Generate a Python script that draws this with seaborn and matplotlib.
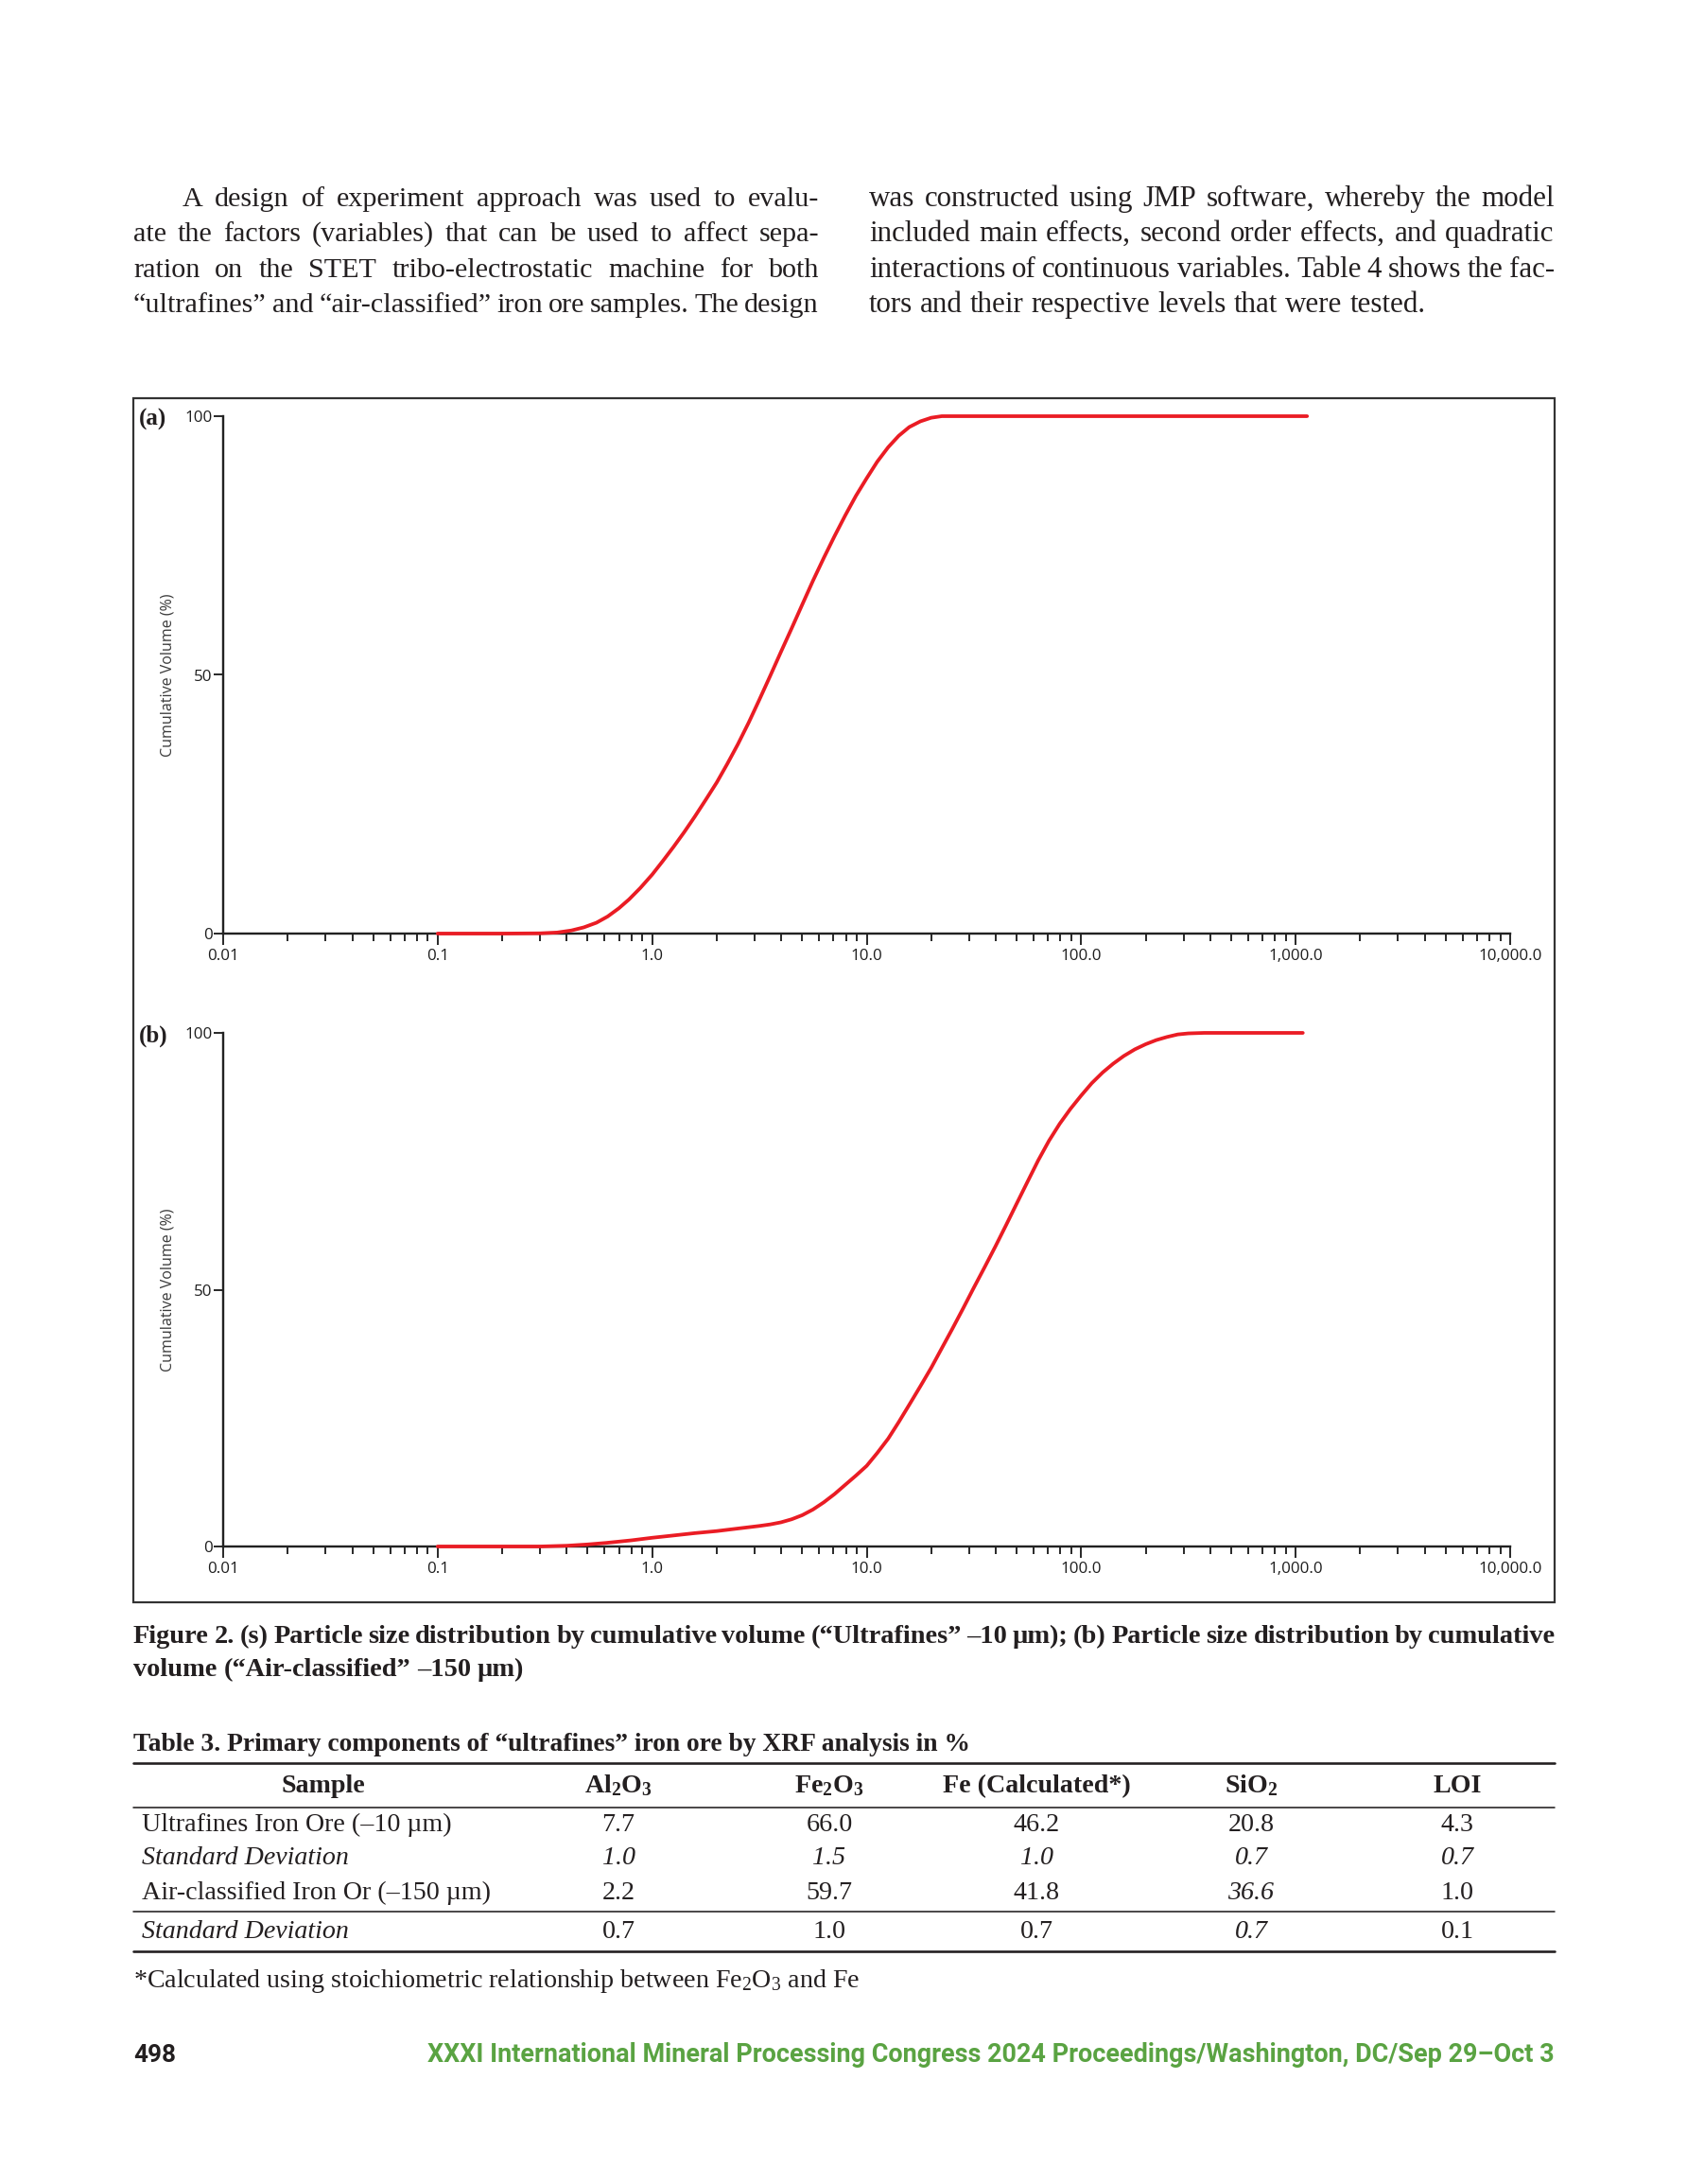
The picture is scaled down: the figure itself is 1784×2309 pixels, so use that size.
import numpy as np
import pandas as pd
import seaborn as sns
import matplotlib.pyplot as plt
from matplotlib.ticker import LogLocator, NullFormatter
from matplotlib.patches import Rectangle
from matplotlib.lines import Line2D

sns.set_style('ticks')
plt.rcParams['font.family'] = ['Liberation Serif', 'DejaVu Serif']
plt.rcParams['mathtext.fontset'] = 'custom'
plt.rcParams['mathtext.rm'] = 'Liberation Serif'
plt.rcParams['mathtext.it'] = 'Liberation Serif:italic'
plt.rcParams['mathtext.bf'] = 'Liberation Serif:bold'

DPI = 200
W, H = 1784, 2309
PT = 72 / DPI
INK = '#231f20'
RED = '#ea1c24'
GREEN = '#5aa342'

# ---- data ----
# (a) ultrafines, particle size (um) vs cumulative volume (%)
size_a = [0.10, 0.20, 0.30, 0.36, 0.42, 0.48, 0.55, 0.62, 0.70, 0.78, 0.88, 1.00,
          1.12, 1.26, 1.41, 1.58, 1.78, 2.00, 2.24, 2.51, 2.82, 3.16, 3.55, 3.98,
          4.47, 5.01, 5.62, 6.31, 7.08, 7.94, 8.91, 10.0, 11.2, 12.6, 14.1, 15.8,
          17.8, 20.0, 22.4, 50.0, 1130.0]
cum_a = [0, 0, 0.05, 0.2, 0.6, 1.2, 2.1, 3.3, 4.9, 6.6, 8.8, 11.4,
         14.0, 16.8, 19.6, 22.6, 25.9, 29.2, 32.8, 36.6, 40.8, 45.2, 49.8, 54.4,
         59.0, 63.6, 68.2, 72.6, 76.8, 80.8, 84.6, 88.0, 91.2, 94.0, 96.2, 97.9,
         99.0, 99.7, 100, 100, 100]
# (b) air-classified
size_b = [0.10, 0.30, 0.40, 0.50, 0.61, 0.80, 1.00, 1.26, 1.58, 2.00, 2.51, 3.16,
          3.55, 3.98, 4.47, 5.01, 5.62, 6.31, 7.08, 7.94, 8.91, 10.0, 11.2, 12.6,
          14.1, 15.8, 17.8, 20.0, 22.4, 25.1, 28.2, 31.6, 35.5, 39.8, 44.7, 50.1,
          56.2, 63.1, 70.8, 79.4, 89.1, 100, 112, 126, 141, 158, 178, 200,
          224, 251, 282, 316, 374, 1080]
cum_b = [0, 0, 0.15, 0.4, 0.7, 1.2, 1.7, 2.15, 2.6, 3.0, 3.5, 4.0,
         4.3, 4.7, 5.3, 6.1, 7.2, 8.6, 10.2, 12.0, 13.8, 15.7, 18.2, 21.0,
         24.2, 27.6, 31.2, 34.8, 38.6, 42.4, 46.4, 50.4, 54.4, 58.4, 62.6, 66.8,
         71.0, 75.2, 79.0, 82.3, 85.2, 87.8, 90.2, 92.3, 94.0, 95.5, 96.8, 97.8,
         98.6, 99.2, 99.7, 99.9, 100, 100]

xtick_vals = [0.01, 0.1, 1, 10, 100, 1000, 10000]
xtick_labels = ['0.01', '0.1', '1.0', '10.0', '100.0', '1,000.0', '10,000.0']
ytick_vals = [0, 50, 100]
ytick_labels = ['0', '50', '100']

para_left = ['A design of experiment approach was used to evalu-',
             'ate the factors (variables) that can be used to affect sepa-',
             'ration on the STET tribo-electrostatic machine for both',
             '“ultrafines” and “air-classified” iron ore samples. The design']
para_right = ['was constructed using JMP software, whereby the model',
              'included main effects, second order effects, and quadratic',
              'interactions of continuous variables. Table 4 shows the fac-',
              'tors and their respective levels that were tested.']
caption = ['Figure 2. (s) Particle size distribution by cumulative volume (“Ultrafines” –10 µm); (b) Particle size distribution by cumulative',
           'volume (“Air-classified” –150 µm)']

table_title = 'Table 3. Primary components of “ultrafines” iron ore by XRF analysis in %'
col_heads = ['Sample', r'Al$_\mathbf{2}$O$_\mathbf{3}$', r'Fe$_\mathbf{2}$O$_\mathbf{3}$',
             'Fe (Calculated*)', r'SiO$_\mathbf{2}$', 'LOI']
samples = ['Ultrafines Iron Ore (–10 µm)', 'Standard Deviation',
           'Air-classified Iron Or (–150 µm)', 'Standard Deviation']
al2o3 = ['7.7', '1.0', '2.2', '0.7']
fe2o3 = ['66.0', '1.5', '59.7', '1.0']
fe_calc = ['46.2', '1.0', '41.8', '0.7']
sio2 = ['20.8', '0.7', '36.6', '0.7']
loi = ['4.3', '0.7', '1.0', '0.1']
italic_cells = [[False] * 6,
                [True] * 6,
                [False, False, False, False, True, False],
                [True, False, False, False, True, False]]
footnote = r'*Calculated using stoichiometric relationship between Fe$_2$O$_3$ and Fe'
page_no = '498'
footer = 'XXXI International Mineral Processing Congress 2024 Proceedings/Washington, DC/Sep 29–Oct 3'

fig = plt.figure(figsize=(W / DPI, H / DPI), dpi=DPI)
R = fig.canvas.get_renderer()


def put(x, y, s, size, **kw):
    kw.setdefault('color', INK)
    return fig.text(x / W, 1 - y / H, s, fontsize=size * PT, **kw)


def wid(t):
    return t.get_window_extent(R).width


def text_block(lines, x0, x1, baselines, size, just, indent=None, **kw):
    indent = indent or [0] * len(lines)
    probe_a = put(0, 0, 'a a', size, **kw)
    probe_b = put(0, 0, 'aa', size, **kw)
    space = wid(probe_a) - wid(probe_b)
    probe_a.remove()
    probe_b.remove()
    rows = []
    factor = 1.0
    for line, y, ind, j in zip(lines, baselines, indent, just):
        arts = [put(x0, y, w, size, va='baseline', **kw) for w in line.split(' ')]
        ws = [wid(a) for a in arts]
        gap = 0.2 * size if j else space
        need = sum(ws) + gap * (len(ws) - 1)
        factor = min(factor, (x1 - x0 - ind) / need)
        rows.append((arts, ws, ind, j))
    for arts, ws, ind, j in rows:
        ws = [w * factor for w in ws]
        for a in arts:
            a.set_fontsize(size * factor * PT)
        if j and len(arts) > 1:
            gap = (x1 - x0 - ind - sum(ws)) / (len(arts) - 1)
        else:
            gap = space * factor
        x = x0 + ind
        for a, w in zip(arts, ws):
            a.set_x(x / W)
            x += w + gap


def fit(x, y, s, width, size, **kw):
    t = put(x, y, s, size, va='baseline', **kw)
    f = min(1.15, max(0.75, width / wid(t)))
    t.set_fontsize(size * f * PT)
    return t


# ---- body text ----
text_block(para_left, 141, 866, [218, 255, 293, 330], 32, [True] * 4, indent=[52, 0, 0, 0])
text_block(para_right, 919, 1644, [218, 255, 293, 330], 32, [True, True, True, False])

# ---- figure frame and panels ----
fig.add_artist(Rectangle((141 / W, 1 - 1694 / H), (1644 - 141) / W, (1694 - 421) / H,
                         transform=fig.transFigure, fill=False, lw=2.2 * PT, ec='#333333'))

panels = [(size_a, cum_a, 440, 987, '(a)'), (size_b, cum_b, 1092, 1635, '(b)')]
tick_font = dict(family=['Open Sans', 'DejaVu Sans'], size=17 * PT, color='#1e1e1e')
for xs, ys, top, bottom, tag in panels:
    ax = fig.add_axes([236 / W, 1 - bottom / H, (1597 - 236) / W, (bottom - top) / H])
    df = pd.DataFrame({'size': xs, 'cum': ys})
    sns.lineplot(data=df, x='size', y='cum', ax=ax, color=RED, linewidth=3.8 * PT,
                 clip_on=False, zorder=3)
    ax.set_xscale('log')
    ax.set_xlim(0.01, 10000)
    ax.set_ylim(0, 100)
    ax.set_xticks(xtick_vals)
    ax.set_xticklabels(xtick_labels, fontdict=tick_font)
    ax.xaxis.set_minor_locator(LogLocator(base=10, subs=np.arange(2, 10)))
    ax.xaxis.set_minor_formatter(NullFormatter())
    ax.set_yticks(ytick_vals)
    ax.set_yticklabels(ytick_labels, fontdict=tick_font)
    ax.tick_params(axis='x', which='major', length=12 * PT, width=1.9 * PT,
                   color='#222222', pad=4 * PT)
    ax.tick_params(axis='x', which='minor', length=8 * PT, width=1.9 * PT, color='#222222')
    ax.tick_params(axis='y', length=10 * PT, width=1.9 * PT, color='#222222', pad=1.5 * PT)
    sns.despine(ax=ax)
    for side in ['left', 'bottom']:
        ax.spines[side].set_linewidth(2.4 * PT)
        ax.spines[side].set_color('#222222')
    ax.set_xlabel('')
    ax.set_ylabel('Cumulative Volume (%)', family=['Open Sans', 'DejaVu Sans'],
                  fontsize=16 * PT, color='#3a3a3a')
    ax.yaxis.label.set_va('center')
    ax.yaxis.set_label_coords((177 - 236) / (1597 - 236), 0.5)
    ax.grid(False)
    put(147, top + 3, tag, 25, weight='bold', va='center')

# ---- caption ----
text_block(caption, 141, 1644, [1737, 1772], 29, [True, False], weight='bold')

# ---- table ----
fit(141, 1851, table_title, 887, 29, weight='bold')
col_x = [342, 654, 877, 1096, 1323, 1541]
for cx, head in zip(col_x, col_heads):
    put(cx, 1895, head, 28, weight='bold', ha='center', va='baseline')
row_y = [1936, 1971, 2008, 2049]
for i, y in enumerate(row_y):
    cells = [samples[i], al2o3[i], fe2o3[i], fe_calc[i], sio2[i], loi[i]]
    for k, (cx, val) in enumerate(zip(col_x, cells)):
        style = 'italic' if italic_cells[i][k] else 'normal'
        if k == 0:
            put(150, y, val, 28, style=style, ha='left', va='baseline')
        else:
            put(cx, y, val, 28, style=style, ha='center', va='baseline')
for y, lw in [(1864, 2.6), (1911, 1.6), (2021, 1.6), (2063, 2.6)]:
    fig.add_artist(Line2D([141 / W, 1644 / W], [1 - y / H, 1 - y / H],
                          transform=fig.transFigure, lw=lw * PT, color=INK))
fit(141, 2101, footnote, 768, 28)

# ---- running footer ----
put(141, 2180, page_no, 26, weight='bold', family=['Roboto', 'DejaVu Sans'], va='baseline')
fit(1644, 2180, footer, 1192, 26, weight='bold', family=['Roboto', 'DejaVu Sans'],
    color=GREEN, ha='right')

fig.savefig('out.png', dpi=DPI, facecolor='white')
